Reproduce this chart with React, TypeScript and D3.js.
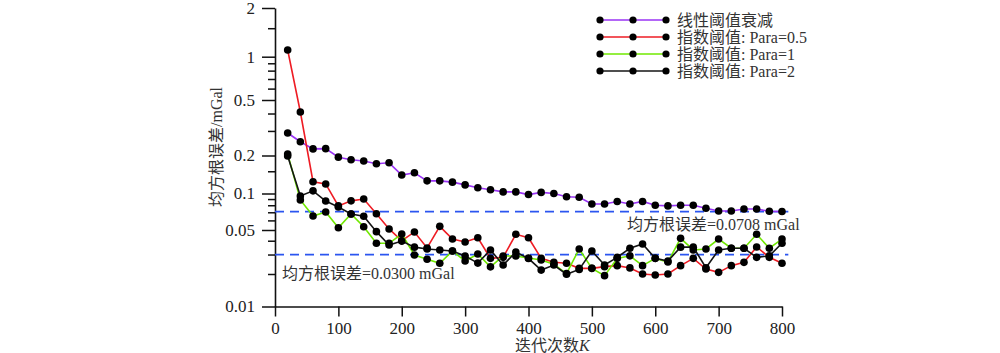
import React, { useRef, useEffect } from "react";
import { select, scaleLinear, scaleLog, axisBottom, axisLeft, line } from "d3";

// iteration count K
const iterations = [
  20, 40, 60, 80, 100, 120, 140, 160, 180, 200, 220, 240, 260, 280, 300, 320, 340, 360, 380, 400,
  420, 440, 460, 480, 500, 520, 540, 560, 580, 600, 620, 640, 660, 680, 700, 720, 740, 760, 780, 800,
];

// RMS error (mGal) per threshold scheme
const linearDecay = [
  0.29, 0.251, 0.223, 0.224, 0.194, 0.185, 0.181, 0.172, 0.175, 0.14,
  0.146, 0.126, 0.126, 0.123, 0.117, 0.111, 0.107, 0.103, 0.103, 0.098,
  0.102, 0.1, 0.094, 0.093, 0.082, 0.082, 0.086, 0.082, 0.086, 0.08,
  0.079, 0.08, 0.08, 0.0755, 0.0717, 0.0717, 0.0745, 0.0745, 0.0713, 0.071,
];
const expPara05 = [
  1.1, 0.41, 0.124, 0.119, 0.079, 0.087, 0.09, 0.068, 0.051, 0.04,
  0.048, 0.0344, 0.0536, 0.0414, 0.039, 0.0425, 0.0277, 0.0283, 0.0457, 0.0425,
  0.0277, 0.0255, 0.025, 0.0225, 0.0225, 0.0233, 0.0238, 0.0227, 0.02, 0.0196,
  0.02, 0.0238, 0.0277, 0.0222, 0.0207, 0.0238, 0.0255, 0.0351, 0.0283, 0.025,
];
const expPara1 = [
  0.205, 0.0884, 0.0652, 0.0704, 0.0522, 0.0678, 0.0532, 0.0379, 0.0379, 0.046,
  0.0297, 0.0272, 0.025, 0.0323, 0.0262, 0.0303, 0.0232, 0.0291, 0.0291, 0.0279,
  0.0268, 0.0245, 0.0202, 0.0337, 0.0225, 0.0193, 0.0277, 0.0292, 0.0238, 0.0277,
  0.0257, 0.042, 0.033, 0.0337, 0.0414, 0.0342, 0.0342, 0.0457, 0.0342, 0.0414,
];
const expPara2 = [
  0.198, 0.0954, 0.105, 0.0867, 0.0774, 0.0678, 0.065, 0.0483, 0.0366, 0.0397,
  0.035, 0.0337, 0.033, 0.0323, 0.0291, 0.0251, 0.033, 0.0241, 0.0316, 0.0276,
  0.0217, 0.0241, 0.0199, 0.022, 0.0323, 0.0241, 0.0283, 0.0342, 0.0374, 0.0277,
  0.0262, 0.035, 0.035, 0.0228, 0.033, 0.0342, 0.0342, 0.0283, 0.0292, 0.0379,
];

const seriesNames = ["线性阈值衰减", "指数阈值: Para=0.5", "指数阈值: Para=1", "指数阈值: Para=2"];
const seriesColors = ["#9a33f5", "#ee1c24", "#70e800", "#141414"];

const xTicks = [0, 100, 200, 300, 400, 500, 600, 700, 800];
const yMajorTicks = [2, 1, 0.5, 0.2, 0.1, 0.05, 0.01];
const yMinorTicks = [1.5, 0.9, 0.8, 0.7, 0.6, 0.4, 0.3, 0.15, 0.09, 0.08, 0.07, 0.06, 0.04, 0.03, 0.02];

const rmsLevels = [0.0708, 0.03];
const rmsLabels = ["均方根误差=0.0708 mGal", "均方根误差=0.0300 mGal"];

const FONT = "'Liberation Serif', 'Times New Roman', 'Noto Sans CJK SC', serif";

function App() {
  const svgRef = useRef<SVGSVGElement>(null);

  useEffect(() => {
    const svg = select(svgRef.current);
    svg.selectAll("*").remove();

    const xScale = scaleLinear().domain([0, 800]).range([275, 782]);
    // the source axis isn't evenly logarithmic (decades shrink toward the bottom),
    // so use a piecewise log scale anchored on the labelled ticks
    const yScale = scaleLog()
      .domain([2, 1, 0.5, 0.2, 0.1, 0.05, 0.02, 0.01])
      .range([8, 56.7, 100, 155.5, 193.5, 230, 274, 306.5]);

    // x axis
    const gx = svg.append("g").attr("transform", `translate(0,${yScale(0.01)})`)
      .call(axisBottom(xScale).tickValues(xTicks).tickSize(10).tickPadding(5).tickSizeOuter(0));
    gx.select(".domain").attr("stroke", "#111").attr("stroke-width", 1.6);
    gx.selectAll(".tick line").attr("stroke", "#111").attr("stroke-width", 1.5);
    gx.selectAll(".tick text").attr("font-family", FONT).attr("font-size", 17).attr("fill", "#222");

    // y axis, minor ticks first
    const gyMinor = svg.append("g").attr("transform", `translate(${xScale(0)},0)`)
      .call(axisLeft(yScale).tickValues(yMinorTicks).tickSize(7).tickFormat(() => "").tickSizeOuter(0));
    gyMinor.select(".domain").remove();
    gyMinor.selectAll(".tick line").attr("stroke", "#111").attr("stroke-width", 1.5);

    const gy = svg.append("g").attr("transform", `translate(${xScale(0)},0)`)
      .call(axisLeft(yScale).tickValues(yMajorTicks).tickSize(13).tickPadding(7).tickSizeOuter(0)
        .tickFormat((d) => String(d)));
    gy.select(".domain").attr("stroke", "#111").attr("stroke-width", 1.6);
    gy.selectAll(".tick line").attr("stroke", "#111").attr("stroke-width", 1.5);
    gy.selectAll(".tick text").attr("font-family", FONT).attr("font-size", 17).attr("fill", "#222");

    // reference RMS levels
    svg.selectAll(".rms")
      .data(rmsLevels)
      .join("line")
      .attr("class", "rms")
      .attr("x1", xScale(0))
      .attr("x2", xScale(810))
      .attr("y1", (d) => yScale(d))
      .attr("y2", (d) => yScale(d))
      .attr("stroke", "#2b55f0")
      .attr("stroke-width", 1.8)
      .attr("stroke-dasharray", "9,6");

    svg.append("text")
      .attr("x", 627).attr("y", yScale(rmsLevels[0]) + 13)
      .attr("dominant-baseline", "central")
      .attr("font-family", FONT).attr("font-size", 16).attr("fill", "#333")
      .text(rmsLabels[0]);
    svg.append("text")
      .attr("x", 282).attr("y", yScale(rmsLevels[1]) + 19)
      .attr("dominant-baseline", "central")
      .attr("font-family", FONT).attr("font-size", 16).attr("fill", "#333")
      .text(rmsLabels[1]);

    // series
    const allSeries = [linearDecay, expPara05, expPara1, expPara2];
    const lineGen = line<number>()
      .x((_, i) => xScale(iterations[i]))
      .y((d) => yScale(d));

    allSeries.forEach((values, k) => {
      svg.append("path")
        .attr("d", lineGen(values))
        .attr("fill", "none")
        .attr("stroke", seriesColors[k])
        .attr("stroke-width", 1.6);
      svg.append("g")
        .selectAll("circle")
        .data(values)
        .join("circle")
        .attr("cx", (_, i) => xScale(iterations[i]))
        .attr("cy", (d) => yScale(d))
        .attr("r", 3.8)
        .attr("fill", "#000");
    });

    // legend
    const legend = svg.append("g").attr("transform", "translate(600,20)");
    seriesNames.forEach((name, k) => {
      const row = legend.append("g").attr("transform", `translate(0,${k * 17})`);
      row.append("line")
        .attr("x1", 0).attr("x2", 66).attr("y1", 0).attr("y2", 0)
        .attr("stroke", seriesColors[k]).attr("stroke-width", 1.6);
      row.selectAll("circle")
        .data([0, 33, 66])
        .join("circle")
        .attr("cx", (d) => d).attr("cy", 0).attr("r", 3.6).attr("fill", "#000");
      row.append("text")
        .attr("x", 77).attr("y", 0)
        .attr("dominant-baseline", "central")
        .attr("font-family", FONT).attr("font-size", 16).attr("fill", "#333")
        .text(name);
    });

    // axis titles
    svg.append("text")
      .attr("transform", "translate(216,147) rotate(-90)")
      .attr("text-anchor", "middle")
      .attr("dominant-baseline", "central")
      .attr("font-family", FONT).attr("font-size", 16).attr("fill", "#333")
      .text("均方根误差/mGal");

    const xTitle = svg.append("text")
      .attr("x", 515).attr("y", 345)
      .attr("dominant-baseline", "central")
      .attr("font-family", FONT).attr("font-size", 16).attr("fill", "#333");
    xTitle.append("tspan").text("迭代次数");
    xTitle.append("tspan").attr("font-style", "italic").text("K");
  }, []);

  return (
    <svg
      ref={svgRef}
      width={1000}
      height={353}
      style={{ position: "absolute", left: 0, top: 0, background: "#fff" }}
    />
  );
}

export default App;
